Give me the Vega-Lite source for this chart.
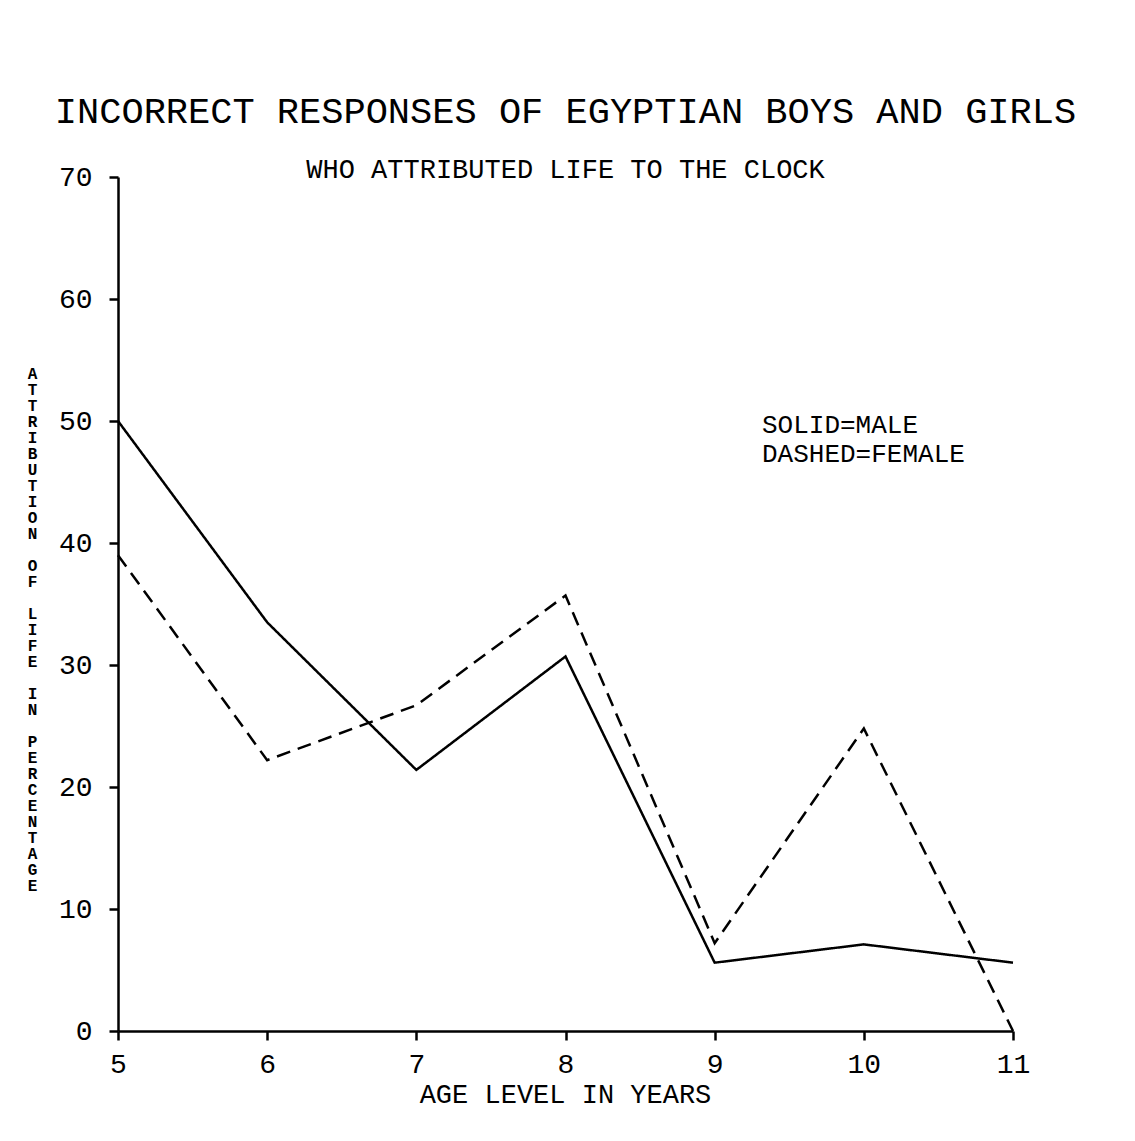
{
  "$schema": "https://vega.github.io/schema/vega-lite/v6.json",
  "width": 895,
  "height": 854,
  "autosize": {"type": "none"},
  "padding": {"left": 118, "top": 177, "right": 122, "bottom": 110},
  "background": "white",
  "title": {
    "text": "INCORRECT RESPONSES OF EGYPTIAN BOYS AND GIRLS",
    "subtitle": "WHO ATTRIBUTED LIFE TO THE CLOCK",
    "anchor": "middle",
    "frame": "group",
    "font": "Liberation Mono",
    "fontSize": 37,
    "fontWeight": "normal",
    "color": "black",
    "subtitleFont": "Liberation Mono",
    "subtitleFontSize": 27,
    "subtitleColor": "black",
    "subtitlePadding": 26,
    "offset": -21
  },
  "data": {
    "values": [
      {"age": 5, "pct": 50.0, "sex": "MALE"},
      {"age": 6, "pct": 33.5, "sex": "MALE"},
      {"age": 7, "pct": 21.4, "sex": "MALE"},
      {"age": 8, "pct": 30.7, "sex": "MALE"},
      {"age": 9, "pct": 5.6, "sex": "MALE"},
      {"age": 10, "pct": 7.1, "sex": "MALE"},
      {"age": 11, "pct": 5.6, "sex": "MALE"},
      {"age": 5, "pct": 39.0, "sex": "FEMALE"},
      {"age": 6, "pct": 22.2, "sex": "FEMALE"},
      {"age": 7, "pct": 26.7, "sex": "FEMALE"},
      {"age": 8, "pct": 35.7, "sex": "FEMALE"},
      {"age": 9, "pct": 7.2, "sex": "FEMALE"},
      {"age": 10, "pct": 24.8, "sex": "FEMALE"},
      {"age": 11, "pct": 0.0, "sex": "FEMALE"}
    ]
  },
  "mark": {"type": "line", "color": "black", "strokeWidth": 2.5},
  "encoding": {
    "x": {
      "field": "age",
      "type": "quantitative",
      "scale": {"domain": [5, 11], "nice": false, "zero": false},
      "axis": {
        "values": [5, 6, 7, 8, 9, 10, 11],
        "format": "d",
        "grid": false,
        "domainColor": "black",
        "domainWidth": 2.5,
        "tickColor": "black",
        "tickWidth": 2.5,
        "tickSize": 9,
        "labelFont": "Liberation Mono",
        "labelFontSize": 28,
        "labelColor": "black",
        "labelPadding": 10,
        "labelFlush": false,
        "title": "AGE LEVEL IN YEARS",
        "titleFont": "Liberation Mono",
        "titleFontSize": 27,
        "titleFontWeight": "normal",
        "titleColor": "black",
        "titleBaseline": "alphabetic",
        "titleY": 71,
        "titleX": 447
      }
    },
    "y": {
      "field": "pct",
      "type": "quantitative",
      "scale": {"domain": [0, 70], "nice": false},
      "axis": {
        "values": [0, 10, 20, 30, 40, 50, 60, 70],
        "grid": false,
        "domainColor": "black",
        "domainWidth": 2.5,
        "tickColor": "black",
        "tickWidth": 2.5,
        "tickSize": 9,
        "labelFont": "Liberation Mono",
        "labelFontSize": 28,
        "labelColor": "black",
        "labelPadding": 17,
        "labelFlush": false,
        "title": ["A","T","T","R","I","B","U","T","I","O","N","\u2800","O","F","\u2800","L","I","F","E","\u2800","I","N","\u2800","P","E","R","C","E","N","T","A","G","E"],
        "titleFont": "Liberation Mono",
        "titleFontSize": 16,
        "titleFontWeight": "bold",
        "titleColor": "black",
        "titleAngle": 0,
        "titleAlign": "center",
        "titleBaseline": "top",
        "titleLineHeight": 16,
        "titleX": -86,
        "titleY": 188
      }
    },
    "strokeDash": {
      "field": "sex",
      "type": "nominal",
      "scale": {"domain": ["MALE", "FEMALE"], "range": [[1, 0], [14, 8]]},
      "legend": {
        "orient": "none",
        "legendX": 618,
        "legendY": 235,
        "title": null,
        "labelExpr": "datum.label == 'MALE' ? 'SOLID=MALE' : 'DASHED=FEMALE'",
        "labelFont": "Liberation Mono",
        "labelFontSize": 26,
        "labelColor": "black",
        "labelLimit": 0,
        "labelOffset": 0,
        "symbolSize": 0,
        "symbolOpacity": 0,
        "symbolStrokeWidth": 0,
        "rowPadding": 3
      }
    }
  },
  "config": {
    "view": {"stroke": null}
  }
}
